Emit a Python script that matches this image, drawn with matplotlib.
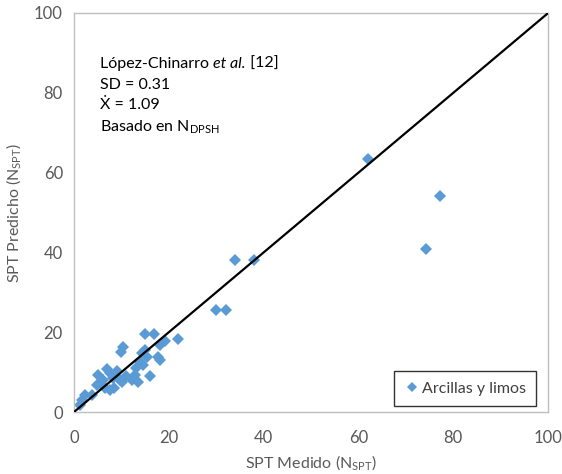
import numpy as np
import matplotlib.pyplot as plt

plt.rcParams['font.family'] = ['Lato', 'DejaVu Sans']
plt.rcParams['mathtext.default'] = 'regular'

# SPT medido vs predicho (arcillas y limos)
medido = [1.3, 1.7, 2.3, 3.8, 4.9, 5.1, 6.1, 6.5, 7.0, 7.6, 7.6, 8.2, 9.0, 9.7,
          9.9, 10.3, 10.1, 12.2, 12.9, 13.5, 13.9, 14.3, 14.6, 15.0, 15.4, 16.0,
          16.9, 17.7, 18.1, 18.1, 19.2, 22.0, 30.0, 32.0, 34.0, 38.0, 62.0,
          74.3, 77.2, 11.0, 13.0, 15.0, 8.5]
predicho = [1.8, 3.0, 4.3, 4.3, 6.8, 9.3, 8.0, 6.0, 10.8, 9.8, 5.5, 8.5, 10.3, 8.0,
            15.0, 16.3, 7.5, 8.0, 9.3, 7.5, 12.5, 14.8, 11.8, 19.5, 13.8, 9.0,
            19.5, 13.8, 16.8, 13.0, 17.8, 18.3, 25.5, 25.5, 38.2, 38.2, 63.4,
            40.9, 54.1, 9.0, 11.0, 15.5, 6.0]
ref_x = [0, 100]
ref_y = [0, 100]

fig = plt.figure(figsize=(5.62, 4.74), dpi=100)
ax = fig.add_axes([0.1317, 0.1308, 0.8437, 0.8418])

ax.plot(ref_x, ref_y, color='black', lw=1.6, zorder=3)
ax.plot(medido, predicho, 'D', color='#5B9BD5', ms=6, mew=0,
        label='Arcillas y limos', zorder=2)

ax.set_xlim(0, 100)
ax.set_ylim(0, 100)
ax.set_xticks(np.arange(0, 101, 20))
ax.set_yticks(np.arange(0, 101, 20))
ax.tick_params(length=0, labelsize=12, labelcolor='#595959')
ax.tick_params(axis='x', pad=13)
ax.tick_params(axis='y', pad=8)
for s in ax.spines.values():
    s.set_color('#BFBFBF')
    s.set_linewidth(1.0)

ax.set_xlabel('SPT Medido (N$_{SPT}$)', fontsize=11.5, color='#595959', labelpad=5)
ax.set_ylabel('SPT Predicho (N$_{SPT}$)', fontsize=11.5, color='#595959', labelpad=8)

# bloque de texto
t1 = ax.text(5.5, 86.2, 'López-Chinarro ', fontsize=11.5, color='black')
t2 = ax.annotate('et al.', xycoords=t1, xy=(1, 0), va='bottom',
                 fontsize=11.5, style='italic', color='black')
ax.annotate(' [12]', xycoords=t2, xy=(1, 0), va='bottom', fontsize=11.5, color='black')
ax.text(5.5, 81.0, 'SD = 0.31', fontsize=11.5, color='black')
ax.text(5.5, 76.0, 'Ẋ = 1.09', fontsize=11.5, color='black')
ax.text(5.5, 70.3, 'Basado en N$_{DPSH}$', fontsize=11.5, color='black')

leg = ax.legend(loc='lower right', bbox_to_anchor=(0.985, 0.003), fontsize=11.5,
                frameon=True, fancybox=False, handletextpad=0.1,
                handlelength=1.0, borderpad=0.65, borderaxespad=0.3, markerscale=0.85)
leg.get_frame().set_edgecolor('black')
leg.get_frame().set_linewidth(1.0)
for t in leg.get_texts():
    t.set_color('#404040')

fig.savefig('out.png', dpi=100)
